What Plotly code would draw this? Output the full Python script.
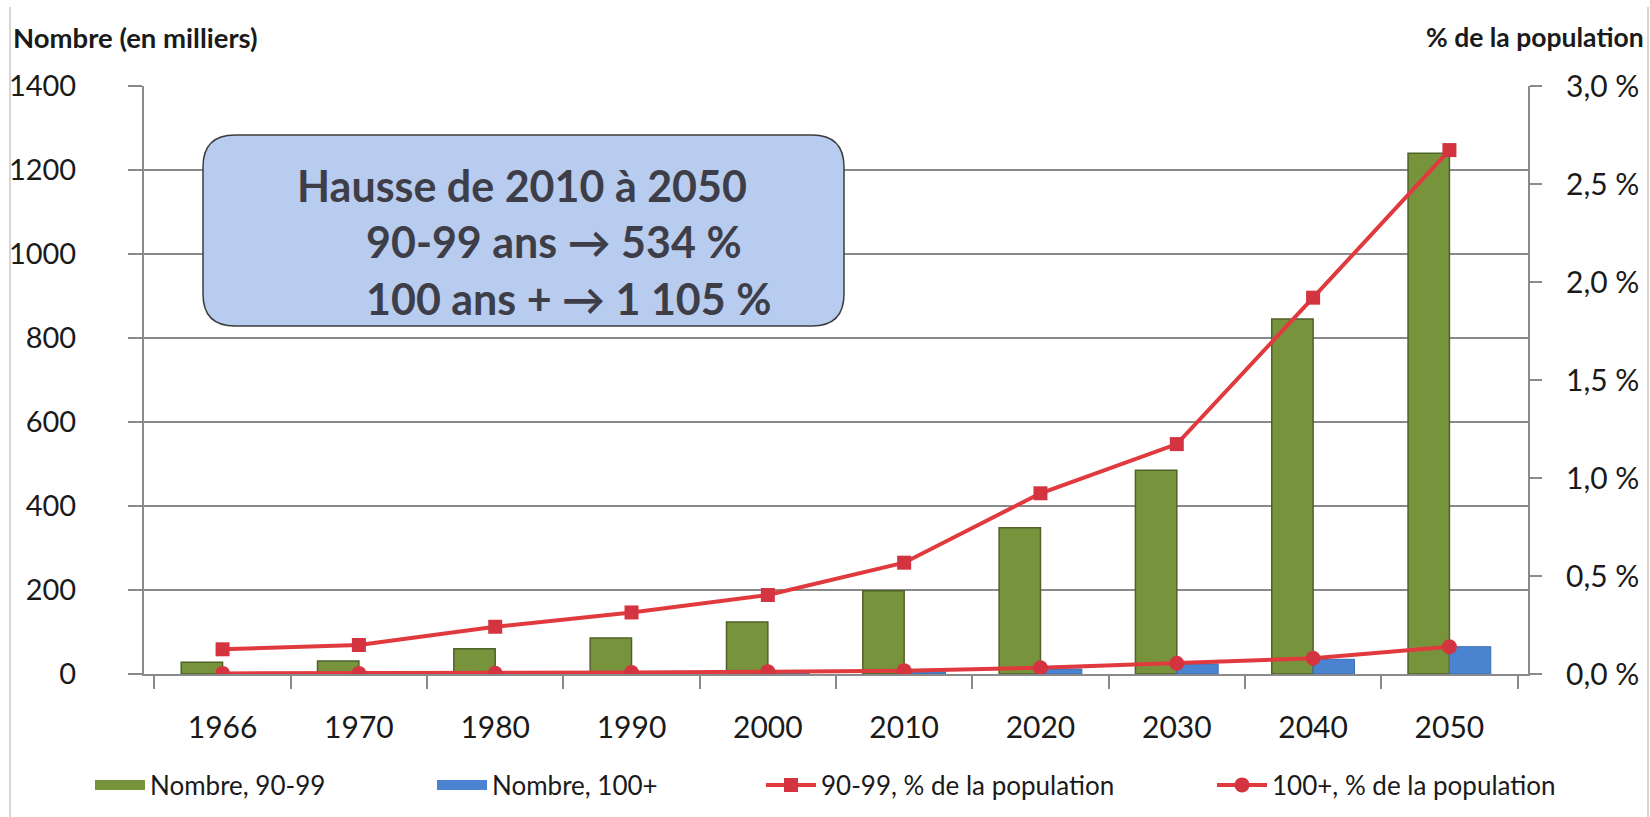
import plotly.graph_objects as go

# ---------------- data ----------------
years = ["1966", "1970", "1980", "1990", "2000", "2010", "2020", "2030", "2040", "2050"]
nombre_90_99 = [28, 31, 60, 86, 124, 198, 348, 485, 845, 1240]
nombre_100 = [1, 1, 2, 3, 4, 5.4, 12, 24, 35, 65]
pct_90_99 = [0.126, 0.148, 0.241, 0.314, 0.403, 0.568, 0.922, 1.173, 1.92, 2.673]
pct_100 = [0.003, 0.003, 0.004, 0.008, 0.012, 0.017, 0.032, 0.055, 0.08, 0.139]

left_ticks = [0, 200, 400, 600, 800, 1000, 1200, 1400]
right_tickvals = [0, 0.5, 1.0, 1.5, 2.0, 2.5, 3.0]
right_ticktext = ["0,0 %", "0,5 %", "1,0 %", "1,5 %", "2,0 %", "2,5 %", "3,0 %"]

series_names = ["Nombre, 90-99", "Nombre, 100+", "90-99, % de la population", "100+, % de la population"]
box_lines = ["Hausse de 2010 à 2050", "90-99 ans \u2192 534 %", "100 ans + \u2192 1 105 %"]
left_title = "Nombre (en milliers)"
right_title = "% de la population"

# ---------------- layout geometry ----------------
W, H = 1650, 817
L, R, T, B = 144, 1528, 86, 674
FONT = "Lato, 'Open Sans', sans-serif"


def px(x):
    return (x - L) / (R - L)


def py(y):
    return (B - y) / (B - T)


GREEN, GREEN_EDGE = "#77933c", "#4f6228"
BLUE, BLUE_EDGE = "#4a84d0", "#3b6fb3"
RED_LINE, RED_MARK = "#e03a3e", "#d3343f"
GRID = "#8a8a8a"

fig = go.Figure()
fig.add_trace(go.Bar(x=years, y=nombre_90_99, name=series_names[0],
                     marker=dict(color=GREEN, line=dict(color=GREEN_EDGE, width=1.5)),
                     showlegend=False, legendgroup="g1"))
fig.add_trace(go.Bar(x=years, y=nombre_100, name=series_names[1],
                     marker=dict(color=BLUE, line=dict(color=BLUE_EDGE, width=1)),
                     showlegend=False, legendgroup="g2"))
fig.add_trace(go.Scatter(x=years, y=pct_90_99, name=series_names[2], yaxis="y2",
                         mode="lines+markers",
                         line=dict(color=RED_LINE, width=4),
                         marker=dict(symbol="square", size=14, color=RED_MARK),
                         legend="legend3"))
fig.add_trace(go.Scatter(x=years, y=pct_100, name=series_names[3], yaxis="y2",
                         mode="lines+markers",
                         line=dict(color=RED_LINE, width=4),
                         marker=dict(symbol="circle", size=15, color=RED_MARK),
                         legend="legend4"))
# legend entries for the bar series (wide swatches like the original)
fig.add_trace(go.Scatter(x=[None], y=[None], mode="lines", name=series_names[0],
                         line=dict(color=GREEN, width=18), legend="legend", legendgroup="g1",
                         hoverinfo="skip"))
fig.add_trace(go.Scatter(x=[None], y=[None], mode="lines", name=series_names[1],
                         line=dict(color=BLUE, width=18), legend="legend2", legendgroup="g2",
                         hoverinfo="skip"))

leg_common = dict(orientation="h", yanchor="middle", y=py(785), xanchor="left",
                  font=dict(family=FONT, size=26, color="#1a1a1a"),
                  bgcolor="rgba(0,0,0,0)", itemwidth=50)
text_starts = [153, 495, 824, 1275]
legends = {}
for i, key in enumerate(["legend", "legend2", "legend3", "legend4"]):
    d = dict(leg_common)
    d["x"] = px(text_starts[i] - 63)
    legends[key] = d

shapes = []
# rounded annotation box
x0, x1 = px(203), px(844)
y0, y1 = py(326), py(135)
rx = 32 / (R - L)
ry = 32 / (B - T)
path = (f"M{x0 + rx},{y0} L{x1 - rx},{y0} Q{x1},{y0} {x1},{y0 + ry} "
        f"L{x1},{y1 - ry} Q{x1},{y1} {x1 - rx},{y1} "
        f"L{x0 + rx},{y1} Q{x0},{y1} {x0},{y1 - ry} "
        f"L{x0},{y0 + ry} Q{x0},{y0} {x0 + rx},{y0} Z")
shapes.append(dict(type="path", xref="paper", yref="paper", path=path,
                   fillcolor="#b8ccef", line=dict(color="#3c3c3c", width=1.5), layer="above"))
# frame lines of the picture
shapes.append(dict(type="line", xref="paper", yref="paper", x0=px(10), x1=px(10), y0=py(7), y1=py(817),
                   line=dict(color="#c8c8c8", width=1.5)))
shapes.append(dict(type="line", xref="paper", yref="paper", x0=px(1648), x1=px(1648), y0=py(7), y1=py(817),
                   line=dict(color="#c8c8c8", width=1.5)))

annotations = [
    dict(xref="paper", yref="paper", x=px(11), y=py(37), xanchor="left", yanchor="middle",
         text=f"<b>{left_title}</b>", showarrow=False,
         font=dict(family=FONT, size=27.5, color="#1a1a1a")),
    dict(xref="paper", yref="paper", x=px(1646), y=py(37), xanchor="right", yanchor="middle",
         text=f"<b>{right_title}</b>", showarrow=False,
         font=dict(family=FONT, size=26.5, color="#1a1a1a")),
]
line_x = [295, 364, 364]
line_y = [185, 242, 298]
for t, lx, ly in zip(box_lines, line_x, line_y):
    annotations.append(dict(xref="paper", yref="paper", x=px(lx), y=py(ly), xanchor="left", yanchor="middle",
                            text=f"<b>{t}</b>", showarrow=False,
                            font=dict(family=FONT, size=43, color="#3e3e48")))

fig.update_layout(
    width=W, height=H,
    margin=dict(l=L, r=W - R, t=T, b=H - B, autoexpand=False),
    paper_bgcolor="white", plot_bgcolor="white",
    barmode="group", bargap=0.393, bargroupgap=0,
    font=dict(family=FONT, color="#1a1a1a"),
    xaxis=dict(type="category", categoryorder="array", categoryarray=years,
               showgrid=False, showline=True, linecolor=GRID, linewidth=2,
               ticks="outside", tickson="boundaries", ticklen=13, tickwidth=2, tickcolor=GRID,
               tickfont=dict(family=FONT, size=30, color="#1a1a1a"), ticklabelstandoff=26),
    yaxis=dict(range=[0, 1400], tickvals=left_ticks, showgrid=True, gridcolor=GRID, gridwidth=2,
               showline=True, linecolor=GRID, linewidth=2, zeroline=False,
               ticks="outside", ticklen=14, tickwidth=2, tickcolor=GRID,
               tickfont=dict(family=FONT, size=29, color="#1a1a1a"), ticklabelstandoff=46),
    yaxis2=dict(range=[0, 3.0], overlaying="y", side="right", tickvals=right_tickvals,
                ticktext=right_ticktext, showgrid=False, showline=True, linecolor=GRID, linewidth=2,
                zeroline=False, ticks="outside", ticklen=12, tickwidth=2, tickcolor=GRID,
                tickfont=dict(family=FONT, size=30, color="#1a1a1a"), ticklabelstandoff=18),
    shapes=shapes, annotations=annotations,
    showlegend=True,
    **legends,
)

fig.write_html("out.html", config={"displayModeBar": False},
               post_script="document.body.style.margin='0';document.body.style.overflow='hidden';")
